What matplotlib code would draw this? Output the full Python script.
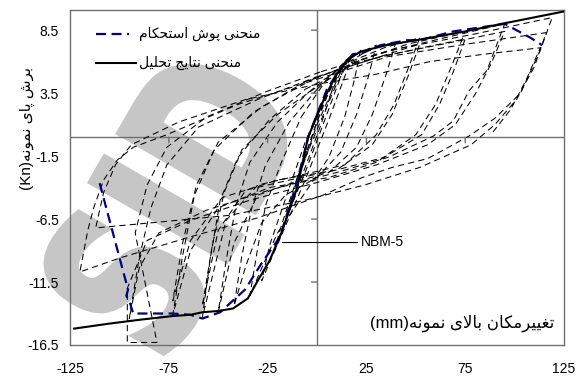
import matplotlib
matplotlib.use('Agg')
import matplotlib.pyplot as plt
from matplotlib.textpath import TextPath
from matplotlib.patches import PathPatch
from matplotlib.font_manager import FontProperties
from matplotlib.transforms import Affine2D, IdentityTransform

# cyclic test loops: (top displacement mm, base shear kN)
cycle_1 = [(-4.5, 0), (0, 1.9), (5, 3.6), (3, 2.6), (-1, 0.8), (-6, -1.6), (-11, -3.8), (-9, -2.9), (-5, -1.0)]
cycle_2 = [(-5, -1.0), (0, 1.2), (6, 3.6), (10, 5.0), (8, 3.9), (2, 1.0), (-6, -2.4), (-13, -5.2), (-16, -6.6),
           (-13, -5.0), (-7, -2.2)]
cycle_3 = [(-7, -2.2), (0, 1.0), (8, 3.8), (15, 6.2), (12, 4.8), (4, 1.4), (-6, -2.8), (-16, -6.6), (-22, -9.2),
           (-18, -7.0), (-10, -3.2)]
cycle_4 = [(-10, -3.2), (0, 0.6), (9, 3.9), (18, 6.6), (14, 4.8), (6, 1.4), (-6, -3.4), (-18, -7.8), (-28, -11.4),
           (-24, -8.6), (-14, -4.0)]
cycle_5 = [(-14, -4.0), (-6, -0.4), (4, 3.0), (14, 5.8), (22, 6.9), (19, 4.6), (14, 1.6), (6, -1.6), (-6, -4.4),
           (-20, -7.6), (-28, -10.4), (-34, -12.6), (-30, -8.8), (-26, -5.4), (-18, -2.0), (-8, 1.6)]
cycle_6 = [(-8, 1.6), (4, 4.4), (16, 6.3), (30, 7.3), (26, 4.8), (20, 1.8), (12, -1.2), (0, -3.2), (-16, -4.6),
           (-28, -6.8), (-36, -10.2), (-42, -13.4), (-38, -9.4), (-33, -5.6), (-26, -2.2), (-14, 1.2), (0, 3.8)]
cycle_7 = [(0, 3.8), (12, 5.6), (26, 6.9), (40, 7.6), (35, 5.0), (28, 1.8), (20, -0.8), (6, -2.8), (-12, -3.6),
           (-30, -4.6), (-42, -8.4), (-50, -13.9), (-46, -9.8), (-41, -5.4), (-34, -2.0), (-20, 1.2), (-4, 3.6)]
cycle_8 = [(-4, 3.6), (14, 5.8), (34, 7.1), (52, 7.9), (46, 5.4), (39, 2.6), (30, 0.2), (14, -2.2), (-8, -3.0),
           (-30, -3.8), (-46, -6.6), (-58, -14.3), (-54, -9.6), (-49, -5.0), (-40, -1.6), (-24, 1.4), (-6, 3.8)]
cycle_9 = [(-6, 3.8), (16, 5.6), (36, 6.6), (52, 7.4), (46, 4.8), (38, 1.8), (28, -0.6), (10, -2.6), (-14, -3.4),
           (-36, -4.2), (-50, -7.4), (-58, -13.4), (-53, -8.6), (-47, -4.4), (-38, -1.0), (-20, 1.8), (0, 4.0)]
cycle_10 = [(0, 4.0), (20, 6.0), (46, 7.4), (75, 8.4), (68, 5.6), (60, 2.6), (50, 0.2), (30, -2.0), (6, -3.2),
            (-24, -4.0), (-50, -5.6), (-64, -9.0), (-73, -14.1), (-68, -9.4), (-62, -4.6), (-52, -1.0), (-32, 2.0),
            (-6, 4.4)]
cycle_11 = [(-6, 4.4), (22, 6.0), (50, 7.0), (75, 7.8), (69, 5.2), (62, 2.6), (53, 0.2), (34, -1.6), (10, -2.6),
            (-20, -3.4), (-48, -4.8), (-64, -8.2), (-73, -13.0), (-68, -8.4), (-61, -3.8), (-50, -0.4), (-28, 2.4),
            (-2, 4.6)]
cycle_12 = [(-2, 4.6), (30, 6.6), (62, 7.8), (95, 9.0), (86, 5.3), (77, 3.7), (69, 1.3), (59, 0.1), (36, -1.6),
            (10, -2.8), (-24, -4.2), (-56, -5.8), (-80, -7.6), (-90, -10.4), (-95, -14.4), (-90, -9.6), (-84, -5.6),
            (-76, -2.2), (-60, 0.8), (-30, 3.0), (0, 4.8)]
cycle_13 = [(0, 4.8), (32, 6.4), (64, 7.4), (95, 8.4), (88, 5.8), (80, 3.4), (70, 1.0), (56, -0.6), (30, -2.2),
            (0, -3.6), (-34, -5.0), (-64, -6.6), (-86, -8.2), (-96, -12.0), (-96, -16.3), (-81, -16.3),
            (-92, -7.6), (-86, -3.8), (-76, -0.8), (-56, 1.6), (-26, 3.6), (2, 5.2)]
cycle_14 = [(2, 5.2), (40, 7.0), (80, 8.2), (119, 9.5), (113, 6.9), (103, 3.5), (90, 1.5), (77, 0.1), (56, -1.7),
            (38, -2.4), (23, -3.2), (3, -4.6), (-30, -6.4), (-66, -8.0), (-100, -9.6), (-120, -10.7), (-116, -7.4),
            (-113, -5.6), (-108, -3.4), (-101, -1.8), (-93, -0.8), (-76, 0.2), (-40, 2.6), (0, 4.6)]
cycle_15 = [(0, 4.6), (36, 6.4), (76, 7.4), (116, 8.3), (110, 5.6), (101, 3.0), (90, 1.0), (78, -0.6), (52, -2.4),
            (24, -3.8), (-6, -5.0), (-44, -6.2), (-84, -6.8), (-112, -7.2), (-108, -4.4), (-102, -2.2), (-94, -0.6),
            (-70, 1.2), (-36, 3.0), (0, 4.2), (30, 5.0), (57, 6.0), (85, 6.6), (113, 7.1), (106, 4.6), (98, 2.2),
            (88, 0.2)]
cycles = [cycle_1, cycle_2, cycle_3, cycle_4, cycle_5, cycle_6, cycle_7, cycle_8, cycle_9, cycle_10,
          cycle_11, cycle_12, cycle_13, cycle_14, cycle_15]

# analysis result curve
anal_x = [-123, -105, -90, -73, -64, -58, -50, -42.5, -35, -30, -24, -18, -10, -4.5, 4, 10, 15, 22, 35, 52, 75,
          95, 125.5]
anal_y = [-15.2, -14.8, -14.5, -14.2, -14.1, -13.9, -13.8, -13.6, -12.8, -11.4, -9.8, -7.6, -4.0, 0, 3.2, 5.0, 6.1,
          6.8, 7.3, 7.75, 8.4, 9.05, 10.0]

# strength envelope (pushover)
push_x = [-110, -98.7, -95.6, -96.5, -95, -93, -73, -64, -58, -49, -36.4, -28, -18.7, -10, -4.5, 5, 12, 18.2, 23.3,
          32, 45.5, 52, 69, 95, 108, 114]
push_y = [-3.65, -10.3, -12.1, -12.6, -13.0, -14.0, -14.0, -14.1, -14.4, -13.9, -12.1, -10.0, -7.9, -3.5, 0, 3.8,
          5.5, 6.6, 6.7, 7.3, 7.7, 7.7, 8.4, 9.0, 7.9, 7.3]

xticks = [-125, -75, -25, 25, 75, 125]
yticks = [-16.5, -11.5, -6.5, -1.5, 3.5, 8.5]

# --- minimal Persian shaping (matplotlib has no text shaping) ---
FORMS = {
    'ا': ('\uFE8D', '\uFE8E', None, None),
    'ب': ('\uFE8F', '\uFE90', '\uFE91', '\uFE92'),
    'پ': ('\uFB56', '\uFB57', '\uFB58', '\uFB59'),
    'ت': ('\uFE95', '\uFE96', '\uFE97', '\uFE98'),
    'ج': ('\uFE9D', '\uFE9E', '\uFE9F', '\uFEA0'),
    'ح': ('\uFEA1', '\uFEA2', '\uFEA3', '\uFEA4'),
    'ر': ('\uFEAD', '\uFEAE', None, None),
    'س': ('\uFEB1', '\uFEB2', '\uFEB3', '\uFEB4'),
    'ش': ('\uFEB5', '\uFEB6', '\uFEB7', '\uFEB8'),
    'غ': ('\uFECD', '\uFECE', '\uFECF', '\uFED0'),
    'ک': ('\uFB8E', '\uFB8F', '\uFB90', '\uFB91'),
    'ل': ('\uFEDD', '\uFEDE', '\uFEDF', '\uFEE0'),
    'م': ('\uFEE1', '\uFEE2', '\uFEE3', '\uFEE4'),
    'ن': ('\uFEE5', '\uFEE6', '\uFEE7', '\uFEE8'),
    'ه': ('\uFEE9', '\uFEEA', '\uFEEB', '\uFEEC'),
    'و': ('\uFEED', '\uFEEE', None, None),
    'ی': ('\uFBFC', '\uFBFD', '\uFBFE', '\uFBFF'),
}


def rtl(text):
    out = []
    i = 0
    n = len(text)
    while i < n:
        c = text[i]
        prev = text[i - 1] if i > 0 else ''
        joins_prev = prev in FORMS and FORMS[prev][2] is not None
        if c == 'ل' and i + 1 < n and text[i + 1] == 'ا':
            out.append('\uFEFC' if joins_prev else '\uFEFB')
            i += 2
            continue
        if c not in FORMS:
            out.append(c)
            i += 1
            continue
        nxt = text[i + 1] if i + 1 < n else ''
        joins_next = FORMS[c][2] is not None and nxt in FORMS
        isol, fina, init, medi = FORMS[c]
        if joins_prev and joins_next:
            out.append(medi)
        elif joins_prev:
            out.append(fina)
        elif joins_next:
            out.append(init)
        else:
            out.append(isol)
        i += 1
    return ''.join(out)[::-1]


plt.rcParams['font.family'] = ['Liberation Sans', 'DejaVu Sans']
AX_GRAY = '#707070'
WM_GRAY = '#c6c6c6'

fig = plt.figure(figsize=(5.78, 3.8), dpi=100)
ax = fig.add_axes([70 / 578, 35 / 380, 494 / 578, 335 / 380])

# watermark: tall narrow letters, rotated, placed in pixel space under the curves
wm = TextPath((0, 0), 'SID', size=1, prop=FontProperties(family='DejaVu Sans', weight='bold'))
v = wm.vertices
cx, cy = (v[:, 0].min() + v[:, 0].max()) / 2, (v[:, 1].min() + v[:, 1].max()) / 2
wm_tf = (Affine2D().translate(-cx, -cy).scale(152, 215).rotate_deg(60)
         .translate(168, 380 - 205))
ax.add_patch(PathPatch(wm_tf.transform_path(wm), facecolor=WM_GRAY, edgecolor=WM_GRAY, lw=4,
                       transform=IdentityTransform(), zorder=0, clip_on=False))

for cyc in cycles:
    ax.plot([p[0] for p in cyc], [p[1] for p in cyc], color='black', lw=0.75, dashes=(6, 4), zorder=2)

ax.plot(push_x, push_y, color='#000080', lw=1.6, dashes=(4.5, 2.5), zorder=3)
ax.plot(anal_x, anal_y, color='black', lw=1.5, zorder=4)

ax.axhline(0, color=AX_GRAY, lw=1.0, zorder=1)
ax.axvline(0, color=AX_GRAY, lw=1.0, zorder=1)

# short ticks on the axes crossing at the origin
for t in xticks[1:-1]:
    ax.annotate('', xy=(t, 0), xytext=(0, -4), textcoords='offset points',
                arrowprops=dict(arrowstyle='-', color=AX_GRAY, lw=1.0, shrinkA=0, shrinkB=0))
for t in yticks[1:]:
    if t == -1.5:
        continue
    ax.annotate('', xy=(0, t), xytext=(-4, 0), textcoords='offset points',
                arrowprops=dict(arrowstyle='-', color=AX_GRAY, lw=1.0, shrinkA=0, shrinkB=0))

ax.set_xlim(-125, 125)
ax.set_ylim(-16.5, 10.1)
ax.set_xticks(xticks)
ax.set_yticks(yticks)
ax.set_xticklabels([str(t) for t in xticks])
ax.set_yticklabels([str(t) for t in yticks])
ax.tick_params(axis='both', length=0, labelsize=10)
ax.tick_params(axis='x', pad=12)
ax.tick_params(axis='y', pad=8)
for s in ax.spines.values():
    s.set_color(AX_GRAY)
    s.set_linewidth(1.0)

# legend drawn by hand (line left of the Persian text)
ax.plot([-112, -95], [8.2, 8.2], color='#000080', lw=1.6, dashes=(4.5, 2.5))
ax.plot([-112, -91.5], [5.9, 5.9], color='black', lw=1.5)
ax.text(-90, 8.2, rtl('منحنی پوش استحکام'), fontsize=10, ha='left', va='center')
ax.text(-90, 5.9, rtl('منحنی نتایج تحلیل'), fontsize=10, ha='left', va='center')

ax.text(120, -14.8, '(mm)' + rtl('تغییرمکان بالای نمونه'), fontsize=12, ha='right', va='center')

ax.plot([-17.7, 20.2], [-8.33, -8.33], color='black', lw=0.8)
ax.text(22.3, -8.33, 'NBM-5', fontsize=10, ha='left', va='center')

fig.text(27 / 578, 1 - 128 / 380, '(Kn)' + rtl('برش پای نمونه'), fontsize=11, rotation=90,
         ha='center', va='center')

fig.savefig('out.png', dpi=100)
